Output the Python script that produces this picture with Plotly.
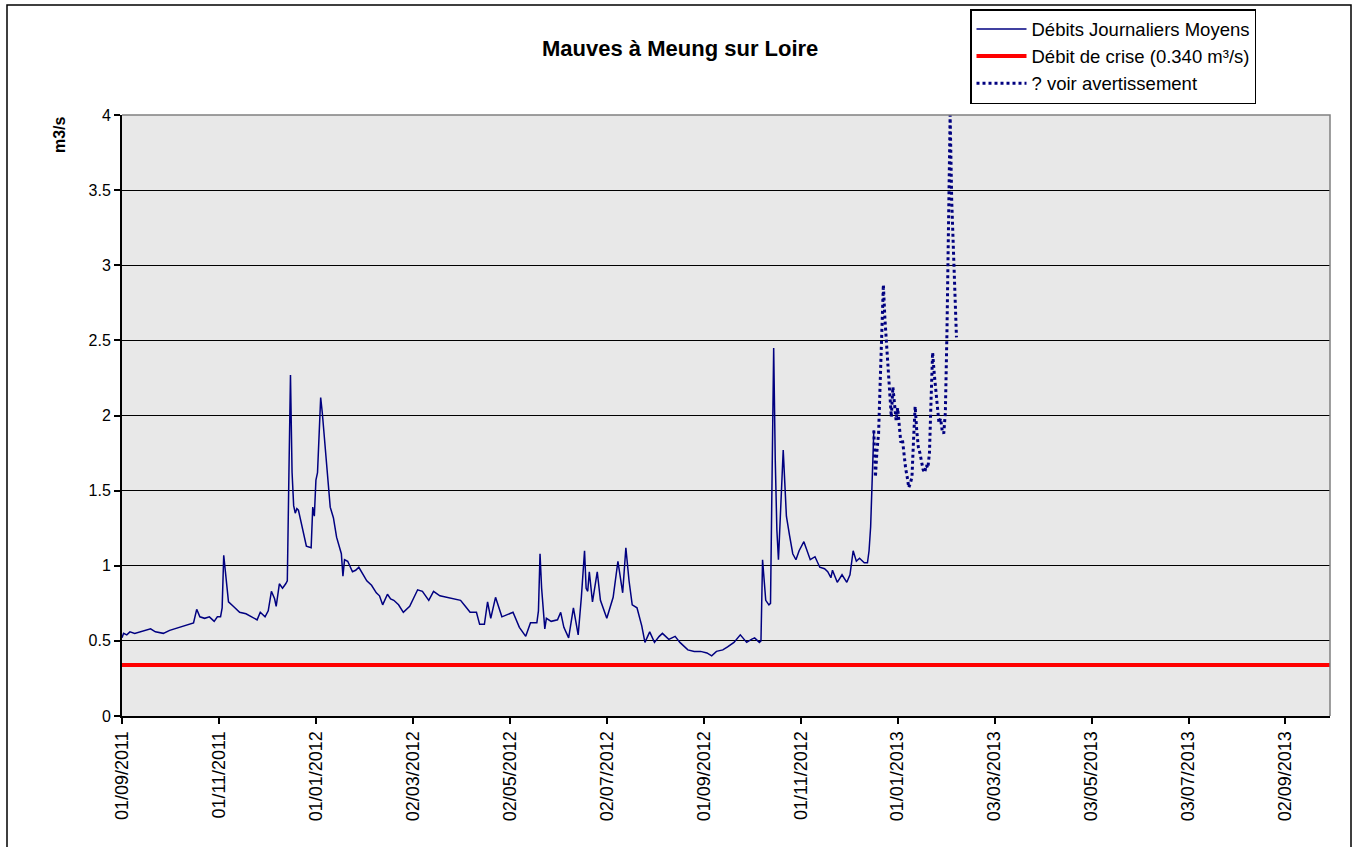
import plotly.graph_objects as go

# ---------------- data ----------------
obs_dates = [
    "2011-09-01", "2011-09-02", "2011-09-04", "2011-09-06", "2011-09-09", "2011-09-12",
    "2011-09-15", "2011-09-19", "2011-09-22", "2011-09-27", "2011-10-01", "2011-10-07",
    "2011-10-11", "2011-10-16", "2011-10-18", "2011-10-20", "2011-10-23", "2011-10-26",
    "2011-10-29", "2011-10-31", "2011-11-02", "2011-11-03", "2011-11-04", "2011-11-05",
    "2011-11-07", "2011-11-10", "2011-11-14", "2011-11-18", "2011-11-22", "2011-11-25",
    "2011-11-27", "2011-11-30", "2011-12-02", "2011-12-04", "2011-12-06", "2011-12-07",
    "2011-12-09", "2011-12-11", "2011-12-13", "2011-12-14", "2011-12-15", "2011-12-16",
    "2011-12-17", "2011-12-18", "2011-12-19", "2011-12-20", "2011-12-21", "2011-12-23",
    "2011-12-26", "2011-12-29", "2011-12-30", "2011-12-31", "2012-01-01", "2012-01-02",
    "2012-01-03", "2012-01-04", "2012-01-05", "2012-01-07", "2012-01-10", "2012-01-12",
    "2012-01-14", "2012-01-17", "2012-01-18", "2012-01-19", "2012-01-21", "2012-01-24",
    "2012-01-26", "2012-01-28", "2012-01-31", "2012-02-02", "2012-02-05", "2012-02-08",
    "2012-02-10", "2012-02-12", "2012-02-15", "2012-02-17", "2012-02-19", "2012-02-22",
    "2012-02-25", "2012-02-29", "2012-03-05", "2012-03-08", "2012-03-12", "2012-03-15",
    "2012-03-19", "2012-03-24", "2012-03-29", "2012-04-01", "2012-04-04", "2012-04-07",
    "2012-04-11", "2012-04-13", "2012-04-16", "2012-04-18", "2012-04-20", "2012-04-23",
    "2012-04-27", "2012-05-01", "2012-05-04", "2012-05-08", "2012-05-12", "2012-05-15",
    "2012-05-19", "2012-05-20", "2012-05-21", "2012-05-22", "2012-05-24", "2012-05-25",
    "2012-05-28", "2012-06-01", "2012-06-03", "2012-06-05", "2012-06-08", "2012-06-11",
    "2012-06-14", "2012-06-16", "2012-06-18", "2012-06-19", "2012-06-20", "2012-06-21",
    "2012-06-23", "2012-06-26", "2012-06-28", "2012-07-02", "2012-07-06", "2012-07-09",
    "2012-07-12", "2012-07-14", "2012-07-16", "2012-07-18", "2012-07-21", "2012-07-24",
    "2012-07-26", "2012-07-29", "2012-08-01", "2012-08-04", "2012-08-06", "2012-08-10",
    "2012-08-14", "2012-08-17", "2012-08-22", "2012-08-26", "2012-08-30", "2012-09-03",
    "2012-09-06", "2012-09-09", "2012-09-13", "2012-09-16", "2012-09-20", "2012-09-24",
    "2012-09-28", "2012-10-01", "2012-10-03", "2012-10-06", "2012-10-07", "2012-10-08",
    "2012-10-09", "2012-10-10", "2012-10-12", "2012-10-13", "2012-10-14", "2012-10-15",
    "2012-10-16", "2012-10-17", "2012-10-18", "2012-10-19", "2012-10-21", "2012-10-22",
    "2012-10-23", "2012-10-25", "2012-10-27", "2012-10-29", "2012-10-31", "2012-11-03",
    "2012-11-05", "2012-11-07", "2012-11-10", "2012-11-13", "2012-11-16", "2012-11-18",
    "2012-11-20", "2012-11-21", "2012-11-24", "2012-11-27", "2012-11-30", "2012-12-02",
    "2012-12-04", "2012-12-06", "2012-12-08", "2012-12-11", "2012-12-13", "2012-12-14",
    "2012-12-15", "2012-12-16", "2012-12-17",
]
obs_flow = [
    0.52, 0.55, 0.54, 0.56, 0.55, 0.56,
    0.57, 0.58, 0.56, 0.55, 0.57, 0.59,
    0.60, 0.62, 0.71, 0.66, 0.65, 0.66,
    0.63, 0.66, 0.66, 0.72, 1.07, 0.98,
    0.76, 0.73, 0.69, 0.68, 0.66, 0.64,
    0.69, 0.66, 0.70, 0.83, 0.78, 0.73,
    0.88, 0.85, 0.88, 0.90, 1.60, 2.27,
    1.62, 1.40, 1.35, 1.38, 1.37, 1.28,
    1.13, 1.12, 1.39, 1.33, 1.57, 1.62,
    1.85, 2.12, 2.02, 1.77, 1.39, 1.32,
    1.19, 1.08, 0.93, 1.04, 1.03, 0.96,
    0.97, 0.99, 0.94, 0.90, 0.87, 0.82,
    0.80, 0.74, 0.81, 0.78, 0.77, 0.74,
    0.69, 0.73, 0.84, 0.83, 0.77, 0.83,
    0.80, 0.79, 0.78, 0.77, 0.73, 0.69,
    0.69, 0.61, 0.61, 0.76, 0.65, 0.79,
    0.66, 0.68, 0.69, 0.59, 0.53, 0.62,
    0.62, 0.70, 1.08, 0.85, 0.58, 0.65,
    0.63, 0.64, 0.69, 0.59, 0.52, 0.72,
    0.54, 0.79, 1.10, 0.85, 0.83, 0.96,
    0.76, 0.96, 0.77, 0.65, 0.79, 1.03,
    0.82, 1.12, 0.90, 0.74, 0.72, 0.60,
    0.49, 0.56, 0.49, 0.53, 0.55, 0.51,
    0.53, 0.49, 0.44, 0.43, 0.43, 0.42,
    0.40, 0.43, 0.44, 0.46, 0.49, 0.54,
    0.49, 0.51, 0.52, 0.49, 0.50, 1.04,
    0.90, 0.77, 0.74, 0.75, 1.60, 2.45,
    1.70, 1.24, 1.04, 1.30, 1.77, 1.55,
    1.33, 1.20, 1.08, 1.04, 1.10, 1.16,
    1.10, 1.04, 1.06, 0.99, 0.98, 0.96,
    0.92, 0.97, 0.89, 0.94, 0.89, 0.94,
    1.10, 1.03, 1.05, 1.02, 1.02, 1.10,
    1.26, 1.59, 1.90,
]

warn_dates = [
    "2012-12-17", "2012-12-18", "2012-12-19", "2012-12-20", "2012-12-21", "2012-12-22",
    "2012-12-23", "2012-12-24", "2012-12-25", "2012-12-26", "2012-12-27", "2012-12-28",
    "2012-12-29", "2012-12-30", "2012-12-31", "2013-01-01", "2013-01-02", "2013-01-03",
    "2013-01-04", "2013-01-05", "2013-01-06", "2013-01-07", "2013-01-08", "2013-01-09",
    "2013-01-10", "2013-01-11", "2013-01-12", "2013-01-13", "2013-01-14", "2013-01-15",
    "2013-01-16", "2013-01-17", "2013-01-18", "2013-01-19", "2013-01-20", "2013-01-21",
    "2013-01-22", "2013-01-23", "2013-01-24", "2013-01-25", "2013-01-26", "2013-01-27",
    "2013-01-28", "2013-01-29", "2013-01-30", "2013-01-31", "2013-02-01", "2013-02-02",
    "2013-02-03", "2013-02-04", "2013-02-05", "2013-02-06", "2013-02-07",
]
warn_flow = [
    1.90, 1.59, 1.77, 1.88, 2.22, 2.55,
    2.87, 2.64, 2.46, 2.28, 2.15, 1.99,
    2.19, 2.08, 1.97, 2.05, 1.90, 1.82,
    1.84, 1.73, 1.65, 1.59, 1.52, 1.55,
    1.59, 1.84, 2.06, 1.90, 1.79, 1.75,
    1.70, 1.64, 1.62, 1.67, 1.65, 1.75,
    2.10, 2.42, 2.28, 2.17, 2.04, 1.95,
    1.98, 1.90, 1.88, 2.02, 2.55, 3.21,
    4.00, 3.43, 3.10, 2.86, 2.52,
]

crisis_value = 0.340
axis_start = "2011-09-01"
axis_end = "2013-09-30"

tick_dates = [
    "2011-09-01", "2011-11-01", "2012-01-01", "2012-03-02", "2012-05-02", "2012-07-02",
    "2012-09-01", "2012-11-01", "2013-01-01", "2013-03-03", "2013-05-03", "2013-07-03",
    "2013-09-02",
]
tick_labels = [
    "01/09/2011", "01/11/2011", "01/01/2012", "02/03/2012", "02/05/2012", "02/07/2012",
    "01/09/2012", "01/11/2012", "01/01/2013", "03/03/2013", "03/05/2013", "03/07/2013",
    "02/09/2013",
]

title_text = "Mauves à Meung sur Loire"
y_title = "m3/s"

# ---------------- figure ----------------
FONT = "Liberation Sans, Arial, sans-serif"
NAVY = "#000080"

fig = go.Figure()

fig.add_trace(go.Scatter(
    x=obs_dates, y=obs_flow, mode="lines",
    name="Débits Journaliers Moyens",
    line=dict(color=NAVY, width=1.5),
    legendgroup="a",
))
fig.add_trace(go.Scatter(
    x=[axis_start, axis_end], y=[crisis_value, crisis_value], mode="lines",
    name="Débit de crise (0.340 m³/s)",
    line=dict(color="#ff0000", width=4),
    legendgroup="b",
))
fig.add_trace(go.Scatter(
    x=warn_dates, y=warn_flow, mode="lines",
    name="? voir avertissement",
    line=dict(color=NAVY, width=3, dash="dot"),
    legendgroup="c",
))

W, H = 1355, 847
L, R, T, B = 122, 25, 115, 131
pw, ph = W - L - R, H - T - B

fig.update_layout(
    width=W, height=H,
    margin=dict(l=L, r=R, t=T, b=B, autoexpand=False),
    paper_bgcolor="white",
    plot_bgcolor="#e8e8e8",
    font=dict(family=FONT, size=16, color="#000000"),
    title=dict(
        text="<b>" + title_text + "</b>",
        font=dict(family=FONT, size=22, color="#000000"),
        x=0.502, xref="container", xanchor="center",
        y=1 - 48 / H, yref="container", yanchor="middle",
    ),
    showlegend=True,
    legend=dict(
        x=(970 - L) / pw, y=(716 - 9) / ph,
        xanchor="left", yanchor="top",
        bgcolor="white", bordercolor="#000000", borderwidth=1.5,
        font=dict(family=FONT, size=18.5, color="#000000"),
        tracegroupgap=0,
        itemwidth=50,
    ),
    xaxis=dict(
        type="date",
        range=[axis_start, axis_end],
        tickvals=tick_dates, ticktext=tick_labels,
        tickangle=-90,
        ticks="outside", ticklen=6, tickwidth=1.5, tickcolor="#000000",
        showgrid=False, zeroline=False,
        showline=True, linecolor="#000000", linewidth=2,
        tickfont=dict(family=FONT, size=18, color="#000000"),
        fixedrange=True,
    ),
    yaxis=dict(
        range=[0, 4], dtick=0.5, tick0=0,
        ticks="outside", ticklen=6, tickwidth=1.5, tickcolor="#000000",
        showgrid=True, gridcolor="#000000", gridwidth=1,
        zeroline=False,
        showline=True, linecolor="#000000", linewidth=2,
        tickfont=dict(family=FONT, size=16, color="#000000"),
        fixedrange=True,
    ),
    shapes=[
        # grey border of the plot area (top / right)
        dict(type="path", xref="paper", yref="paper", path="M0,1 L1,1 L1,0",
             line=dict(color="#808080", width=1.5), layer="above"),
        # outer frame of the whole chart
        dict(type="rect", xref="paper", yref="paper",
             x0=(7 - L) / pw, x1=(1351 - L) / pw,
             y0=(716 - 900) / ph, y1=(716 - 5) / ph,
             line=dict(color="#000000", width=1.5), layer="above"),
    ],
    annotations=[
        dict(text="<b>" + y_title + "</b>", xref="paper", yref="paper",
             x=(60 - L) / pw, y=(716 - 135) / ph, showarrow=False,
             textangle=-90, xanchor="center", yanchor="middle",
             font=dict(family=FONT, size=16, color="#000000")),
    ],
)

fig.write_html(
    "out.html",
    config={"displayModeBar": False},
    post_script="document.body.style.margin='0px';document.body.style.overflow='hidden';",
)
